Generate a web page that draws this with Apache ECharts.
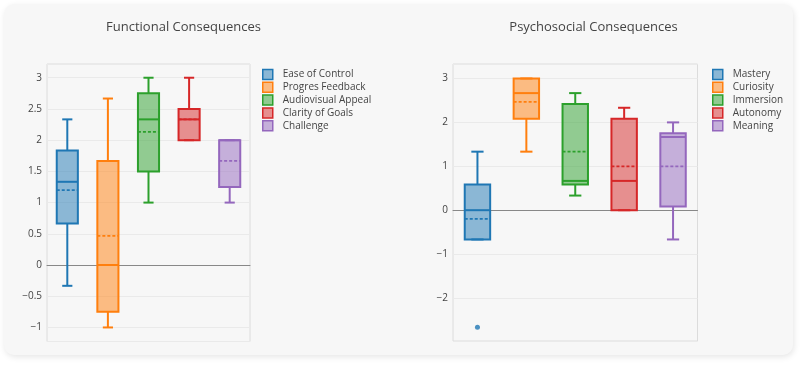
<!DOCTYPE html>
<html>
<head>
<meta charset="utf-8">
<script src="https://cdn.jsdelivr.net/npm/echarts@6/dist/echarts.min.js"></script>
<style>
  html, body { margin: 0; padding: 0; background: #ffffff; }
  #card { position: absolute; left: 4px; top: 4px; width: 789px; height: 351px; border-radius: 10px;
          background: #f7f7f7; box-shadow: 1px 2px 6px rgba(0,0,0,0.10); }
  #chart { position: absolute; left: 0; top: 0; width: 805px; height: 368px; }
</style>
</head>
<body>
<div id="card"></div>
<div id="chart"></div>
<script>
// ---- Data ----
const colors = ['#1f77b4', '#ff7f0e', '#2ca02c', '#d62728', '#9467bd'];

const leftTitle = 'Functional Consequences';
const leftCats = ['Ease of Control', 'Progres Feedback', 'Audiovisual Appeal', 'Clarity of Goals', 'Challenge'];
const leftMin    = [-0.333, -1.0,  1.0,   2.0,   1.0];
const leftQ1     = [0.667, -0.75,  1.5,   2.0,   1.25];
const leftMedian = [1.333,  0.0,   2.333, 2.333, 2.0];
const leftQ3     = [1.833,  1.667, 2.75,  2.5,   2.0];
const leftMax    = [2.333,  2.667, 3.0,   3.0,   2.0];
const leftMean   = [1.2,    0.467, 2.133, 2.333, 1.667];
const leftOutliers = [];

const rightTitle = 'Psychosocial Consequences';
const rightCats = ['Mastery', 'Curiosity', 'Immersion', 'Autonomy', 'Meaning'];
const rightMin    = [-0.667, 1.333, 0.333, 0.0,   -0.667];
const rightQ1     = [-0.667, 2.083, 0.583, 0.0,   0.083];
const rightMedian = [0.0,    2.667, 0.667, 0.667, 1.667];
const rightQ3     = [0.583,  3.0,   2.417, 2.083, 1.75];
const rightMax    = [1.333,  3.0,   2.667, 2.333, 2.0];
const rightMean   = [-0.2,   2.467, 1.333, 1.0,   1.0];
const rightOutliers = [[0, -2.667]];

const leftTicks = [-1, -0.5, 0, 0.5, 1, 1.5, 2, 2.5, 3];
const rightTicks = [-2, -1, 0, 1, 2, 3];

// ---- Rendering ----
const FONT = '"Open Sans", "DejaVu Sans", sans-serif';
const chart = echarts.init(document.getElementById('chart'), null, { renderer: 'canvas' });

function alpha(hex, a) {
  const n = parseInt(hex.slice(1), 16);
  return 'rgba(' + ((n >> 16) & 255) + ',' + ((n >> 8) & 255) + ',' + (n & 255) + ',' + a + ')';
}

function renderBox(params, api) {
  const xi = api.value(0);
  const bw = api.size([1, 0])[0];
  const half = bw * 0.26;
  const cap = bw * 0.125;
  const cx = api.coord([xi, 0])[0];
  const py = k => api.coord([xi, api.value(k)])[1];
  const lo = py(1), q1 = py(2), med = py(3), q3 = py(4), hi = py(5), mean = py(6);
  const c = api.visual('color');
  const ls = { stroke: c, lineWidth: 2 };
  return {
    type: 'group',
    children: [
      { type: 'line', shape: { x1: cx, y1: q3, x2: cx, y2: hi }, style: ls },
      { type: 'line', shape: { x1: cx, y1: q1, x2: cx, y2: lo }, style: ls },
      { type: 'line', shape: { x1: cx - cap, y1: hi, x2: cx + cap, y2: hi }, style: ls },
      { type: 'line', shape: { x1: cx - cap, y1: lo, x2: cx + cap, y2: lo }, style: ls },
      { type: 'rect', shape: { x: cx - half, y: q3, width: 2 * half, height: Math.max(q1 - q3, 0.01) },
        style: { fill: alpha(c, 0.5), stroke: c, lineWidth: 2 } },
      { type: 'line', shape: { x1: cx - half, y1: med, x2: cx + half, y2: med }, style: ls },
      { type: 'line', shape: { x1: cx - half, y1: mean, x2: cx + half, y2: mean },
        style: { stroke: c, lineWidth: 1.8, lineDash: [3, 2] } }
    ]
  };
}

function buildSeries(cats, mn, q1, md, q3, mx, mean, outliers, axisIdx) {
  const s = cats.map((name, i) => ({
    name: name,
    type: 'custom',
    xAxisIndex: axisIdx,
    yAxisIndex: axisIdx,
    itemStyle: { color: colors[i] },
    renderItem: renderBox,
    encode: { x: 0, y: [1, 2, 3, 4, 5, 6] },
    data: [[i, mn[i], q1[i], md[i], q3[i], mx[i], mean[i]]],
    z: 3
  }));
  if (outliers.length) {
    s.push({
      name: '_outliers' + axisIdx,
      type: 'scatter',
      xAxisIndex: axisIdx,
      yAxisIndex: axisIdx,
      symbolSize: 5,
      data: outliers.map(o => ({ value: o, itemStyle: { color: colors[o[0]] } })),
      z: 4
    });
  }
  return s;
}

function fmtTick(ticks) {
  return function (v) {
    for (const t of ticks) {
      if (Math.abs(t - v) < 1e-6) return (t < 0 ? '\u2212' + String(-t) : String(t));
    }
    return '';
  };
}

function legendFor(cats, left) {
  return {
    orient: 'vertical',
    left: left,
    top: 68.5,
    itemWidth: 10,
    itemHeight: 10,
    itemGap: 0.8,
    icon: 'rect',
    padding: 0,
    selectedMode: false,
    textStyle: { fontFamily: FONT, fontSize: 10, lineHeight: 12, color: '#444', padding: [0, 0, 0, 5] },
    data: cats.map((name, i) => ({
      name: name,
      itemStyle: { color: alpha(colors[i], 0.5), borderColor: colors[i], borderWidth: 1.5 }
    }))
  };
}

function yAxisFor(gridIndex, min, max, split, ticks) {
  return {
    type: 'value',
    gridIndex: gridIndex,
    min: min,
    max: max,
    splitNumber: split,
    axisLine: { show: false },
    axisTick: { show: false },
    axisLabel: { showMinLabel: false, showMaxLabel: false, formatter: fmtTick(ticks),
                 fontFamily: FONT, fontSize: 10, color: '#444', margin: 5 },
    splitLine: { show: true, lineStyle: { color: '#eaeaea', width: 1 } }
  };
}

function xAxisFor(gridIndex, cats) {
  return {
    type: 'category',
    gridIndex: gridIndex,
    data: cats,
    boundaryGap: true,
    axisLine: { show: true, onZero: true, lineStyle: { color: '#888', width: 1 } },
    axisTick: { show: false },
    axisLabel: { show: false },
    splitLine: { show: false }
  };
}

const option = {
  animation: false,
  backgroundColor: 'transparent',
  graphic: [
    { type: 'text', x: 183.5, y: 27, style: { text: leftTitle, textAlign: 'center', textVerticalAlign: 'middle',
      fontFamily: FONT, fontSize: 13, fill: '#444' } },
    { type: 'text', x: 593.5, y: 27, style: { text: rightTitle, textAlign: 'center', textVerticalAlign: 'middle',
      fontFamily: FONT, fontSize: 13, fill: '#444' } }
  ],
  grid: [
    { left: 47, top: 64, width: 203, height: 277.5, show: true, borderColor: '#dcdcdc', borderWidth: 1,
      backgroundColor: '#f7f7f7' },
    { left: 453, top: 64, width: 244.5, height: 277, show: true, borderColor: '#dcdcdc', borderWidth: 1,
      backgroundColor: '#f7f7f7' }
  ],
  legend: [legendFor(leftCats, 262), legendFor(rightCats, 712)],
  xAxis: [xAxisFor(0, leftCats), xAxisFor(1, rightCats)],
  yAxis: [yAxisFor(0, -1.225, 3.22, 9, leftTicks), yAxisFor(1, -2.98, 3.33, 6, rightTicks)],
  series: [].concat(
    buildSeries(leftCats, leftMin, leftQ1, leftMedian, leftQ3, leftMax, leftMean, leftOutliers, 0),
    buildSeries(rightCats, rightMin, rightQ1, rightMedian, rightQ3, rightMax, rightMean, rightOutliers, 1)
  )
};
chart.setOption(option);
</script>
</body>
</html>
